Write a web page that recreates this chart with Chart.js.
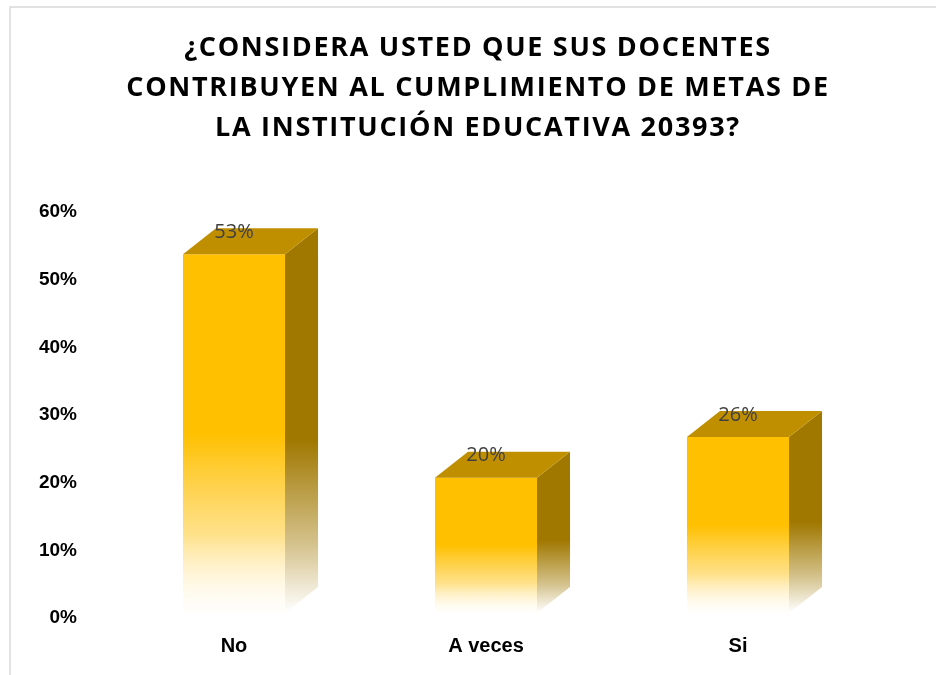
<!DOCTYPE html>
<html>
<head>
<meta charset="utf-8">
<script src="https://cdn.jsdelivr.net/npm/chart.js@4.4.1/dist/chart.umd.min.js"></script>
<style>
  html, body { margin: 0; padding: 0; background: #fff; }
  #wrap { width: 936px; height: 675px; }
</style>
</head>
<body>
<div id="wrap"><canvas id="chartEncuesta"></canvas></div>
<script>
var categorias = ['No', 'A veces', 'Si'];
var porcentajes = [53, 20, 26];
var ticksY = [0, 10, 20, 30, 40, 50, 60];
var titulo = [
  '¿CONSIDERA USTED QUE SUS DOCENTES',
  'CONTRIBUYEN AL CUMPLIMIENTO DE METAS DE',
  'LA INSTITUCIÓN EDUCATIVA 20393?'
];

var DX = 33, DY = 26;

// front face fades to white in its lower half
function frontColor(context) {
  var chart = context.chart;
  var y = chart.scales.y;
  if (!chart.chartArea || !y || context.raw === undefined) return '#FFC000';
  var top = y.getPixelForValue(context.raw);
  var base = y.getPixelForValue(0);
  if (!isFinite(top) || !isFinite(base)) return '#FFC000';
  var g = chart.ctx.createLinearGradient(0, top, 0, base);
  g.addColorStop(0, '#FFC000');
  g.addColorStop(0.5, '#FFC000');
  g.addColorStop(0.78, 'rgba(255,200,40,0.55)');
  g.addColorStop(1, 'rgba(255,240,200,0.05)');
  return g;
}

var marco = {
  id: 'marco',
  beforeDraw: function (chart) {
    var ctx = chart.ctx;
    ctx.save();
    ctx.strokeStyle = '#D9D9D9';
    ctx.lineWidth = 1.5;
    ctx.strokeRect(10, 7, 960, 700);
    // title, letter-spaced like the original
    ctx.fillStyle = '#000';
    ctx.font = 'bold 27px "Open Sans"';
    ctx.letterSpacing = '1.7px';
    ctx.textAlign = 'center';
    ctx.textBaseline = 'middle';
    titulo.forEach(function (linea, i) {
      ctx.fillText(linea, 478, 48 + i * 40);
    });
    ctx.restore();
  }
};

var barras3d = {
  id: 'barras3d',
  afterDatasetsDraw: function (chart) {
    var ctx = chart.ctx;
    var meta = chart.getDatasetMeta(0);
    meta.data.forEach(function (bar, i) {
      var left = bar.x - bar.width / 2;
      var right = bar.x + bar.width / 2;
      var top = bar.y;
      var base = bar.base;
      // side face
      var gs = ctx.createLinearGradient(0, top - DY, 0, base);
      gs.addColorStop(0, '#A07800');
      gs.addColorStop(0.55, '#A07800');
      gs.addColorStop(0.82, 'rgba(160,120,0,0.45)');
      gs.addColorStop(1, 'rgba(160,120,0,0)');
      ctx.save();
      ctx.fillStyle = gs;
      ctx.beginPath();
      ctx.moveTo(right, top);
      ctx.lineTo(right + DX, top - DY);
      ctx.lineTo(right + DX, base - DY);
      ctx.lineTo(right, base);
      ctx.closePath();
      ctx.fill();
      // top face
      ctx.fillStyle = '#BF8F00';
      ctx.beginPath();
      ctx.moveTo(left, top);
      ctx.lineTo(left + DX, top - DY);
      ctx.lineTo(right + DX, top - DY);
      ctx.lineTo(right, top);
      ctx.closePath();
      ctx.fill();
      // value label
      ctx.fillStyle = '#404040';
      ctx.font = '20px "Open Sans"';
      ctx.textAlign = 'center';
      ctx.textBaseline = 'middle';
      ctx.fillText(porcentajes[i] + '%', bar.x, top - 22);
      ctx.restore();
    });
  }
};

var ctx = document.getElementById('chartEncuesta');

var chartEncuesta = new Chart(ctx, {
  type: 'bar',
  data: {
    labels: categorias,
    datasets: [{
      data: porcentajes,
      backgroundColor: frontColor,
      borderWidth: 0,
      categoryPercentage: 1,
      barPercentage: 0.405
    }]
  },
  options: {
    responsive: true,
    maintainAspectRatio: false,
    animation: false,
    layout: { padding: { left: 0, right: 72, top: 207, bottom: 0 } },
    plugins: {
      legend: { display: false },
      tooltip: { enabled: false },
      title: { display: false }
    },
    scales: {
      x: {
        afterFit: function (scale) { scale.height = 62; },
        grid: { display: false },
        border: { display: false },
        ticks: {
          color: '#000',
          padding: 13,
          font: { family: 'Liberation Sans', size: 20, weight: 'bold' }
        }
      },
      y: {
        min: 0,
        max: 60,
        afterFit: function (scale) { scale.width = 108; },
        afterBuildTicks: function (scale) {
          scale.ticks = ticksY.map(function (v) { return { value: v }; });
        },
        grid: { display: false },
        border: { display: false },
        ticks: {
          color: '#000',
          padding: 23,
          labelOffset: 5,
          font: { family: 'Liberation Sans', size: 19, weight: 'bold' },
          callback: function (v) { return v + '%'; }
        }
      }
    }
  },
  plugins: [marco, barras3d]
});
</script>
</body>
</html>
